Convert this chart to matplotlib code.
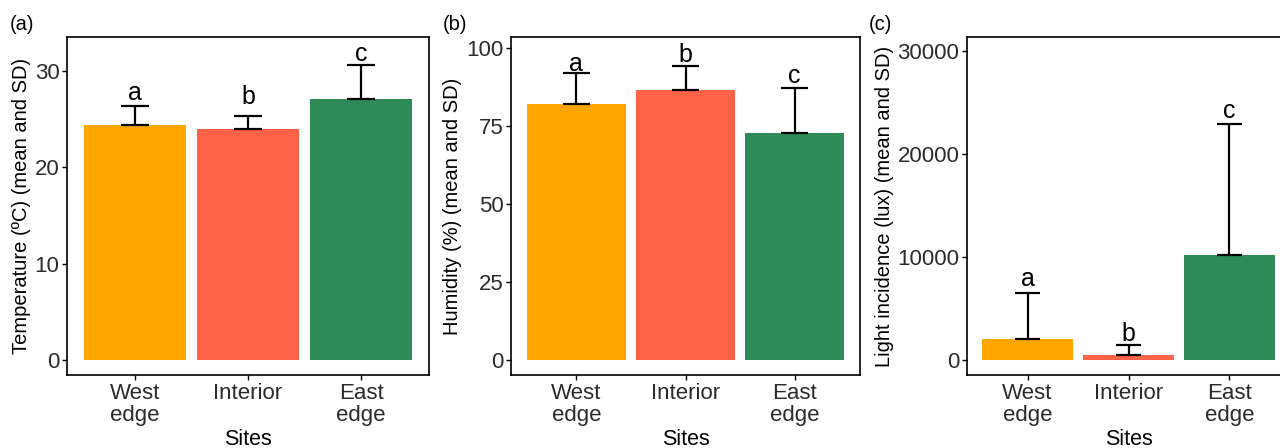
import matplotlib
matplotlib.use("Agg")
import matplotlib.pyplot as plt
import numpy as np

plt.rcParams['font.family'] = ['Liberation Sans', 'DejaVu Sans']

sites = ["West\nedge", "Interior", "East\nedge"]
colors = ["#FFA500", "#FF6347", "#2E8B57"]
letters = ["a", "b", "c"]

temp_mean = [24.4, 23.95, 27.1]
temp_sd = [1.9, 1.35, 3.5]
temp_lab = [27.0, 26.5, 31.0]

hum_mean = [82.1, 86.7, 72.9]
hum_sd = [9.8, 7.7, 14.3]
hum_lab = [92.8, 95.7, 88.8]

light_mean = [2040, 460, 10220]
light_sd = [4460, 970, 12680]
light_lab = [7210, 1870, 23520]

panels = [
    ("(a)", "Temperature (ºC) (mean and SD)", temp_mean, temp_sd, temp_lab,
     (-1.56, 33.5), [0, 10, 20, 30]),
    ("(b)", "Humidity (%) (mean and SD)", hum_mean, hum_sd, hum_lab,
     (-4.8, 103.6), [0, 25, 50, 75, 100]),
    ("(c)", "Light incidence (lux) (mean and SD)", light_mean, light_sd, light_lab,
     (-1456, 31360), [0, 10000, 20000, 30000]),
]

W, H = 1280, 448
boxes = [(67, 429), (511, 860), (967, 1290)]
top, bottom = 37, 375
label_x = [22, 453, 884]
tag_pos = [(10, 25), (443, 25), (869, 25)]

fig = plt.figure(figsize=(W / 100, H / 100), dpi=100)
x = np.arange(1, 4)

for (tag, ylab, mean, sd, lab, ylim, yt), (l, r), lx, (tx, ty) in zip(panels, boxes, label_x, tag_pos):
    ax = fig.add_axes([l / W, (H - bottom) / H, (r - l) / W, (bottom - top) / H])
    mean = np.array(mean)
    sd = np.array(sd)
    ax.bar(x, mean, width=0.9, color=colors, edgecolor="none")
    # upper-half error bars with caps at both ends
    ax.vlines(x, mean, mean + sd, color="black", lw=1.6)
    ax.hlines(mean, x - 0.125, x + 0.125, color="black", lw=1.6)
    ax.hlines(mean + sd, x - 0.125, x + 0.125, color="black", lw=1.6)
    for xi, yi, t in zip(x, lab, letters):
        ax.text(xi, yi, t, ha="center", va="baseline", fontsize=18)
    ax.set_xlim(0.4, 3.6)
    ax.set_ylim(*ylim)
    ax.set_yticks(yt)
    ax.set_xticks(x)
    ax.set_xticklabels(sites, linespacing=1.1)
    ax.tick_params(axis="both", labelsize=16, labelcolor="#2b2b2b", length=3.5,
                   width=1.0, pad=2)
    for s in ax.spines.values():
        s.set_linewidth(1.2)
    ax.set_xlabel("Sites", fontsize=15.5, labelpad=2)
    ax.yaxis.set_label_coords((lx - l) / (r - l), 0.5)
    ax.set_ylabel(ylab, fontsize=14.5, va="center")
    fig.text(tx / W, 1 - ty / H, tag, fontsize=14.5, va="center", ha="left")

fig.savefig("out.png", dpi=100)
